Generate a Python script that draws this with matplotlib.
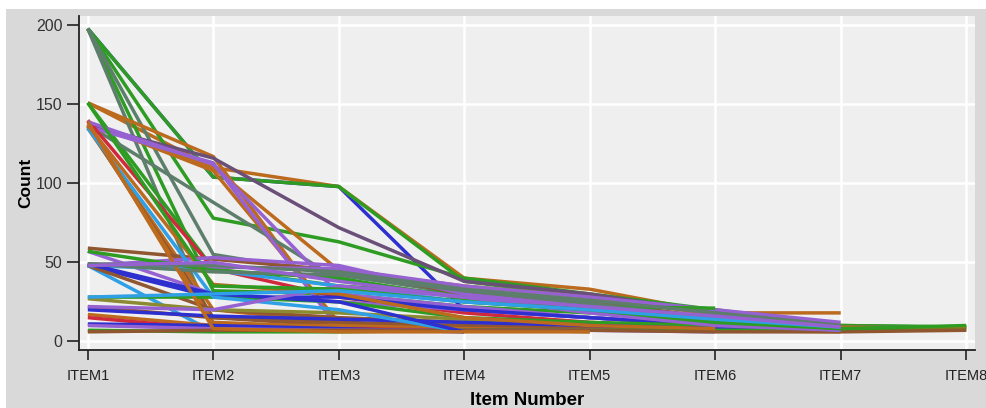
import numpy as np
import matplotlib.pyplot as plt
from matplotlib.patches import Rectangle

items = ["ITEM1", "ITEM2", "ITEM3", "ITEM4", "ITEM5", "ITEM6", "ITEM7", "ITEM8"]

# one row per subject; a shorter row stops at its last item
counts = [
    [198, 104, 98, 20, 15, 10, 7],
    [151, 110, 98, 40, 33, 18, 18],
    [198, 104, 98, 38, 28, 18, 10, 9],
    [198, 78, 63, 40, 30, 20, 10, 9],
    [198, 32, 30, 22, 18, 12, 8],
    [198, 10, 8],
    [198, 55, 42, 30, 22, 15, 9, 9],
    [151, 117, 10, 8, 7, 7],
    [151, 46, 35, 30, 20, 15, 8],
    [139, 108, 12, 8, 7, 7, 6],
    [138, 110, 45, 35, 28, 17, 9, 8],
    [137, 116, 72, 38, 30, 18, 10],
    [137, 88, 39, 28, 20, 12, 8],
    [136, 113, 8, 7],
    [135, 20, 12, 8, 6],
    [136, 15, 10, 9],
    [137, 12, 9, 8, 7],
    [140, 46, 28, 18, 12, 8],
    [139, 112, 30, 22, 15, 10],
    [59, 52, 45, 30, 25, 15, 10],
    [57, 30, 25, 20, 15, 10],
    [49, 47, 46, 35, 28, 20, 12],
    [48, 53, 48, 30, 22, 15, 8],
    [48, 28, 28, 20, 15, 10, 7],
    [48, 6],
    [48, 20, 15, 12, 10, 8],
    [28, 28, 25, 15, 12, 10, 8],
    [27, 20, 18, 14, 10, 8],
    [22, 15, 12, 10, 8, 7],
    [20, 16, 14, 12, 10, 8, 7],
    [17, 10, 10, 8, 7, 7],
    [15, 8, 8, 7, 7],
    [11, 10, 8, 6],
    [10, 8, 7, 7, 7, 6],
    [7, 6, 6, 7, 7, 7, 7, 7],
    [6, 7, 7, 7, 7, 6, 6, 7],
    [48, 45, 35, 25, 20, 12, 7],
    [135, 28, 20, 6],
    [49, 30, 25, 6],
    [57, 45, 40, 27, 22, 21],
    [49, 44, 42, 32, 24, 14, 8],
    [22, 20, 35, 28, 18, 10, 7],
    [137, 36, 30, 15, 10, 8],
    [139, 8, 6, 6, 6],
    [151, 35, 33, 25, 20, 12, 8, 10],
    [28, 30, 32, 25, 20, 14, 9],
    [49, 48, 44, 33, 26, 18, 10],
    [48, 50, 38, 28, 22, 16, 9],
]

ORANGE = "#bb6a1e"
GREEN = "#2e9c22"
PURPLE = "#9662d2"
GRAY = "#5e7e6c"
BLUE = "#2d2fcf"
LBLUE = "#2f9fe6"
RED = "#d0293b"
DPURPLE = "#6a4f78"
BROWN = "#8f5630"
OLIVE = "#8c8a30"

colors = [
    BLUE, ORANGE, GREEN, GREEN, GREEN, GRAY, GRAY, ORANGE, GREEN, ORANGE,
    ORANGE, DPURPLE, GRAY, PURPLE, ORANGE, BROWN, ORANGE, RED, PURPLE, BROWN,
    PURPLE, PURPLE, PURPLE, BLUE, LBLUE, BROWN, GREEN, OLIVE, BROWN, BLUE,
    ORANGE, RED, BLUE, PURPLE, GREEN, BROWN, LBLUE, LBLUE, BLUE, GREEN,
    GRAY, PURPLE, ORANGE, ORANGE, GREEN, LBLUE, GRAY, PURPLE,
]

fig = plt.figure(figsize=(9.87, 4.08), dpi=100)
fig.patch.set_facecolor("#d9d9d9")
# white border strip along the top and left edge
fig.patches.append(Rectangle((0, 1 - 9 / 408), 1, 9 / 408, transform=fig.transFigure,
                             facecolor="white", edgecolor="none", zorder=0))
fig.patches.append(Rectangle((0, 0), 6 / 987, 1, transform=fig.transFigure,
                             facecolor="white", edgecolor="none", zorder=0))

ax = fig.add_axes([79 / 987, 1 - 350 / 408, (975 - 79) / 987, (350 - 16) / 408])
ax.set_facecolor("#efefef")

for vals, c in zip(counts, colors):
    ax.plot(np.arange(len(vals)), vals, color=c, lw=2.5, solid_capstyle="butt", zorder=3)

ax.set_xlim(-0.07, 7.07)
ax.set_ylim(-5.5, 206)
ax.set_xticks(np.arange(len(items)))
ax.set_xticklabels(items)
ax.set_yticks([0, 50, 100, 150, 200])

ax.grid(True, color="white", lw=1.8, zorder=1)
ax.set_axisbelow(True)

for s in ["top", "right"]:
    ax.spines[s].set_visible(False)
for s in ["left", "bottom"]:
    ax.spines[s].set_color("#222222")
    ax.spines[s].set_linewidth(1.3)

ax.tick_params(axis="x", length=7, width=1.2, color="#222222", pad=7,
               labelsize=10.5, labelcolor="#222222")
ax.tick_params(axis="y", length=9, width=1.2, color="#222222", pad=3,
               labelsize=11.5, labelcolor="#333333")
for lab in ax.get_xticklabels() + ax.get_yticklabels():
    lab.set_family("Liberation Sans")

ax.set_xlabel("Item Number", fontsize=13.5, fontweight="bold", family="Liberation Sans",
              labelpad=6)
ax.set_ylabel("Count", fontsize=12.5, fontweight="bold", family="Liberation Sans",
              labelpad=2)

fig.savefig("out.png", dpi=100, facecolor=fig.get_facecolor())
